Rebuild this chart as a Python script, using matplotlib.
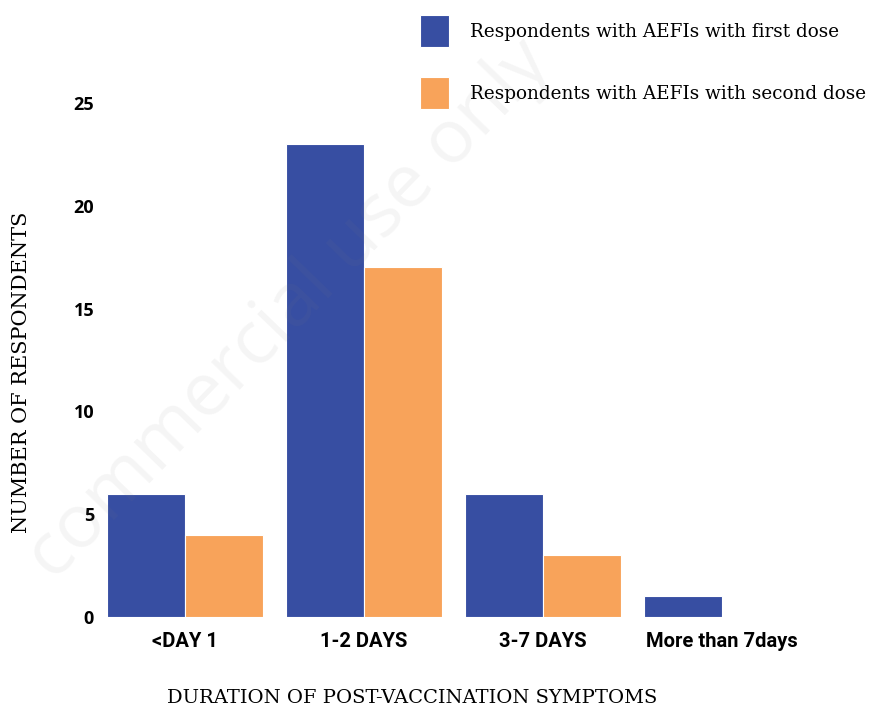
import numpy as np
import matplotlib
matplotlib.use("Agg")
import matplotlib.pyplot as plt

categories = ["<DAY 1", "1-2 DAYS", "3-7 DAYS", "More than 7days"]
first_dose = [6, 23, 6, 1]
second_dose = [4, 17, 3, 0]
yticks = [0, 5, 10, 15, 20, 25]

blue = "#374ea2"
orange = "#f8a35a"

fig = plt.figure(figsize=(8.74, 7.10), dpi=100)
ax = fig.add_axes([95.5/874, (710-617)/710, 716/874, 514/710])

x = np.arange(len(categories))
w = 0.436
b1 = ax.bar(x - w/2, first_dose, w, color=blue, edgecolor="white", linewidth=0.8,
            label="Respondents with AEFIs with first dose")
b2 = ax.bar(x + w/2, second_dose, w, color=orange, edgecolor="white", linewidth=0.8,
            label="Respondents with AEFIs with second dose")

ax.set_xlim(-0.5, 3.5)
ax.set_ylim(0, 25)
for s in ax.spines.values():
    s.set_visible(False)
ax.set_yticks(yticks)
ax.set_xticks(x)
ax.set_xticklabels(categories, family="Roboto", fontweight="bold", fontsize=14.5)
ax.set_yticklabels([str(t) for t in yticks], family="Open Sans", fontweight="bold", fontsize=13)
ax.tick_params(length=0)
ax.tick_params(axis="x", pad=11)
ax.tick_params(axis="y", pad=1)

fig.text(412/874, 1 - 698/710, "DURATION OF POST-VACCINATION SYMPTOMS", ha="center", va="center",
         family="DejaVu Serif", fontsize=14)
fig.text(22/874, 1 - 372/710, "NUMBER OF RESPONDENTS", ha="center", va="center", rotation=90,
         family="DejaVu Serif", fontsize=15)

leg = fig.legend(handles=[b1, b2], loc="upper left", bbox_to_anchor=(420/874, 1 - 15/710),
                 frameon=False, prop={"family": "DejaVu Serif", "size": 13.2},
                 borderpad=0, borderaxespad=0,
                 handlelength=1.6, handleheight=2.3, labelspacing=1.65, handletextpad=1.15)

fig.text(290/874, 1 - 310/710, "commercial use only", ha="center", va="center", rotation=46,
         fontsize=54, color="gray", alpha=0.08, family="Open Sans")

fig.savefig("out.png", dpi=100)
